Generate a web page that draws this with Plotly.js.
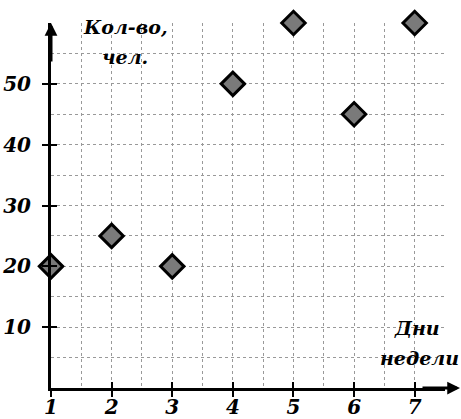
<!DOCTYPE html>
<html>
<head>
<meta charset="utf-8">
<script src="https://cdn.plot.ly/plotly-3.0.1.min.js"></script>
<style>html,body{margin:0;padding:0;background:#fff;}#chart{width:461px;height:419px;}</style>
</head>
<body>
<div id="chart"></div>
<script>
// Data
const days = [1, 2, 3, 4, 5, 6, 7];
const counts = [20, 25, 20, 50, 60, 45, 60];
const xTickVals = [1, 2, 3, 4, 5, 6, 7];
const xTickText = ['1', '2', '3', '4', '5', '6', '7'];
const yTickVals = [10, 20, 30, 40, 50];
const yTickText = ['10', '20', '30', '40', '50'];
const yTitleLines = ['Кол-во,', 'чел.'];
const xTitleLines = ['Дни', 'недели'];

const fontFam = 'DejaVu Serif';
const tickFont = {family: fontFam, size: 20, color: '#000', weight: 'bold', style: 'italic'};
const titleFont = {family: fontFam, size: 19, color: '#000', weight: 'bold', style: 'italic'};

const W = 461, H = 419;
const margin = {l: 51, r: 16, t: 23, b: 31, pad: 0};
const plotW = W - margin.l - margin.r;
const plotH = H - margin.t - margin.b;
const px2x = p => (p - margin.l) / plotW;
const px2y = p => (H - margin.b - p) / plotH;

const traces = [
  {x: [], y: [], xaxis: 'x2', yaxis: 'y', type: 'scatter', hoverinfo: 'skip', showlegend: false},
  {x: [], y: [], xaxis: 'x', yaxis: 'y2', type: 'scatter', hoverinfo: 'skip', showlegend: false},
  {
    x: days, y: counts, type: 'scatter', mode: 'markers', cliponaxis: false, showlegend: false,
    marker: {symbol: 'diamond', size: 18, color: '#7a7a7a', line: {color: '#000', width: 3}}
  }
];

const gridCommon = {gridcolor: '#999999', griddash: 'dot', gridwidth: 1};

const titleAnn = (text, cx, cy) => ({
  xref: 'paper', yref: 'paper', x: px2x(cx), y: px2y(cy), xanchor: 'center', yanchor: 'middle',
  text: text, showarrow: false, font: titleFont
});

const layout = {
  width: W, height: H, margin: margin,
  font: {family: fontFam},
  paper_bgcolor: '#fff', plot_bgcolor: '#fff', showlegend: false,
  xaxis: Object.assign({
    range: [1, 7.5], showline: true, linewidth: 3, linecolor: '#000',
    tickmode: 'array', tickvals: xTickVals, ticktext: xTickText,
    ticks: 'outside', ticklen: 6, tickwidth: 2, tickcolor: '#000',
    tickfont: tickFont, ticklabelstandoff: -7,
    showgrid: true, zeroline: false,
    minor: Object.assign({dtick: 0.5, tick0: 0, showgrid: true, ticks: ''}, gridCommon)
  }, gridCommon),
  yaxis: Object.assign({
    range: [0, 60], showline: true, linewidth: 3, linecolor: '#000',
    tickmode: 'array', tickvals: yTickVals, ticktext: yTickText,
    ticks: 'outside', ticklen: 6, tickwidth: 2, tickcolor: '#000',
    tickfont: tickFont, ticklabelstandoff: 7,
    showgrid: true, zeroline: false,
    minor: Object.assign({dtick: 5, tick0: 0, showgrid: true, ticks: ''}, gridCommon)
  }, gridCommon),
  xaxis2: {
    overlaying: 'x', anchor: 'y', range: [1, 7.5], tickmode: 'array', tickvals: xTickVals,
    ticks: 'inside', ticklen: 6, tickwidth: 2, tickcolor: '#000',
    showticklabels: false, showgrid: false, zeroline: false, showline: false
  },
  yaxis2: {
    overlaying: 'y', anchor: 'x', range: [0, 60], tickmode: 'array', tickvals: yTickVals,
    ticks: 'inside', ticklen: 6, tickwidth: 2, tickcolor: '#000',
    showticklabels: false, showgrid: false, zeroline: false, showline: false
  },
  annotations: [
    {xref: 'x', yref: 'y', x: 1, y: 60, ax: 0, ay: 40, text: '', showarrow: true,
     arrowhead: 2, arrowsize: 0.85, arrowwidth: 3, arrowcolor: '#000'},
    {xref: 'paper', yref: 'y', x: 1 + 16 / plotW, y: 0, ax: -40, ay: 0, text: '', showarrow: true,
     arrowhead: 2, arrowsize: 0.85, arrowwidth: 3, arrowcolor: '#000'},
    titleAnn(yTitleLines[0], 125, 27),
    titleAnn(yTitleLines[1], 125, 57),
    titleAnn(xTitleLines[0], 417, 328),
    titleAnn(xTitleLines[1], 419, 358)
  ]
};

Plotly.newPlot('chart', traces, layout, {staticPlot: true, displayModeBar: false});
</script>
</body>
</html>
